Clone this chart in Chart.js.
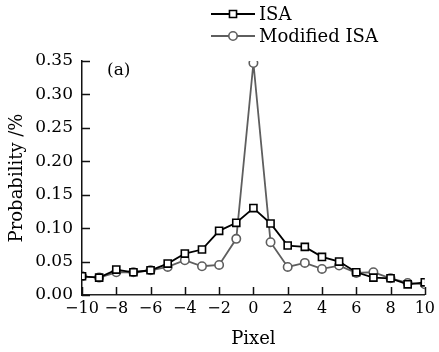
<!DOCTYPE html>
<html>
<head>
<meta charset="utf-8">
<script src="https://cdn.jsdelivr.net/npm/chart.js@4.4.1/dist/chart.umd.min.js"></script>
<style>
  html, body { margin: 0; padding: 0; background: #fff; }
  #wrap { position: relative; width: 439px; height: 352px; }
</style>
</head>
<body>
<div id="wrap"><canvas id="c" width="439" height="352"></canvas></div>
<script>
const pixels = [-10, -9, -8, -7, -6, -5, -4, -3, -2, -1, 0, 1, 2, 3, 4, 5, 6, 7, 8, 9, 10];
const isa = [0.028, 0.026, 0.038, 0.034, 0.037, 0.047, 0.062, 0.068, 0.096, 0.108, 0.130, 0.107, 0.074, 0.072, 0.057, 0.050, 0.034, 0.026, 0.025, 0.016, 0.019];
const modifiedIsa = [0.028, 0.026, 0.034, 0.034, 0.037, 0.042, 0.052, 0.043, 0.045, 0.084, 0.347, 0.079, 0.042, 0.048, 0.039, 0.044, 0.033, 0.034, 0.025, 0.018, 0.016];
const xTicks = [-10, -8, -6, -4, -2, 0, 2, 4, 6, 8, 10];
const yTicks = [0.00, 0.05, 0.10, 0.15, 0.20, 0.25, 0.30, 0.35];
const seriesNames = ['ISA', 'Modified ISA'];

const FONT = 'DejaVu Serif';

const toPoints = (vals) => pixels.map((p, i) => ({ x: p, y: vals[i] }));

const inwardTicks = {
  id: 'inwardTicks',
  afterDraw(chart) {
    const ctx = chart.ctx;
    const xs = chart.scales.x, ys = chart.scales.y;
    const area = chart.chartArea;
    ctx.save();
    ctx.strokeStyle = '#111';
    ctx.lineWidth = 1.5;
    ctx.beginPath();
    xTicks.forEach(t => {
      const px = Math.round(xs.getPixelForValue(t)) + 0.5;
      ctx.moveTo(px, area.bottom);
      ctx.lineTo(px, area.bottom - 8);
    });
    yTicks.forEach(t => {
      const py = Math.round(ys.getPixelForValue(t)) + 0.5;
      ctx.moveTo(area.left, py);
      ctx.lineTo(area.left + 8, py);
    });
    ctx.stroke();
    ctx.fillStyle = '#000';
    ctx.font = '17px "' + FONT + '"';
    ctx.textBaseline = 'middle';
    ctx.textAlign = 'left';
    ctx.fillText('(a)', 107, 71);
    ctx.restore();
  }
};

const customLegend = {
  id: 'customLegend',
  afterDraw(chart) {
    const ctx = chart.ctx;
    const rows = [14, 36];
    ctx.save();
    chart.data.datasets.forEach((ds, i) => {
      const y = rows[i];
      ctx.strokeStyle = ds.borderColor;
      ctx.lineWidth = ds.borderWidth;
      ctx.beginPath();
      ctx.moveTo(211, y);
      ctx.lineTo(255, y);
      ctx.stroke();
      ctx.fillStyle = '#fff';
      ctx.strokeStyle = ds.pointBorderColor;
      ctx.lineWidth = ds.pointBorderWidth;
      Chart.helpers.drawPoint(ctx, {
        pointStyle: ds.pointStyle,
        radius: ds.pointRadius,
        rotation: 0,
        borderWidth: ds.pointBorderWidth
      }, 233, y);
      ctx.fillStyle = '#000';
      ctx.font = '18px "' + FONT + '"';
      ctx.textBaseline = 'middle';
      ctx.textAlign = 'left';
      ctx.fillText(ds.label, 259, y + 1);
    });
    ctx.restore();
  }
};

const ds = (label, vals, color, style, r) => ({
  label,
  data: toPoints(vals),
  borderColor: color,
  backgroundColor: '#fff',
  borderWidth: 1.8,
  pointStyle: style,
  pointRadius: r,
  pointBorderWidth: 1.6,
  pointBackgroundColor: '#fff',
  pointBorderColor: color,
  tension: 0
});

new Chart(document.getElementById('c'), {
  type: 'line',
  data: {
    datasets: [
      ds(seriesNames[0], isa, '#000', 'rect', 5),
      ds(seriesNames[1], modifiedIsa, '#5e5e5e', 'circle', 4.2)
    ]
  },
  options: {
    responsive: false,
    animation: false,
    devicePixelRatio: 1,
    layout: { padding: { top: 61, right: 10, left: 0, bottom: 0 } },
    plugins: { legend: { display: false }, tooltip: { enabled: false } },
    scales: {
      x: {
        type: 'linear',
        min: -10, max: 10,
        afterBuildTicks: (s) => { s.ticks = xTicks.map(v => ({ value: v })); },
        afterFit: (s) => { s.height = 57; },
        ticks: {
          color: '#000',
          font: { family: FONT, size: 16 },
          padding: 4,
          maxRotation: 0,
          autoSkip: false,
          callback: (v) => (v < 0 ? '\u2212' + Math.abs(v) : String(v))
        },
        grid: { display: true, drawOnChartArea: false, drawTicks: false },
        border: { display: true, color: '#222', width: 1.5 },
        title: {
          display: true, text: 'Pixel', color: '#000',
          font: { family: FONT, size: 18 }, padding: { top: 0, bottom: 2 }
        }
      },
      y: {
        min: 0, max: 0.35,
        afterBuildTicks: (s) => { s.ticks = yTicks.map(v => ({ value: v })); },
        afterFit: (s) => { s.width = 82; },
        ticks: {
          color: '#000',
          font: { family: FONT, size: 17 },
          padding: 9,
          autoSkip: false,
          callback: (v) => Number(v).toFixed(2)
        },
        grid: { display: true, drawOnChartArea: false, drawTicks: false },
        border: { display: true, color: '#111', width: 1.5 },
        title: {
          display: true, text: 'Probability /%', color: '#000',
          font: { family: FONT, size: 18 }, padding: { top: 7, bottom: 2 }
        }
      }
    }
  },
  plugins: [inwardTicks, customLegend]
});
</script>
</body>
</html>
